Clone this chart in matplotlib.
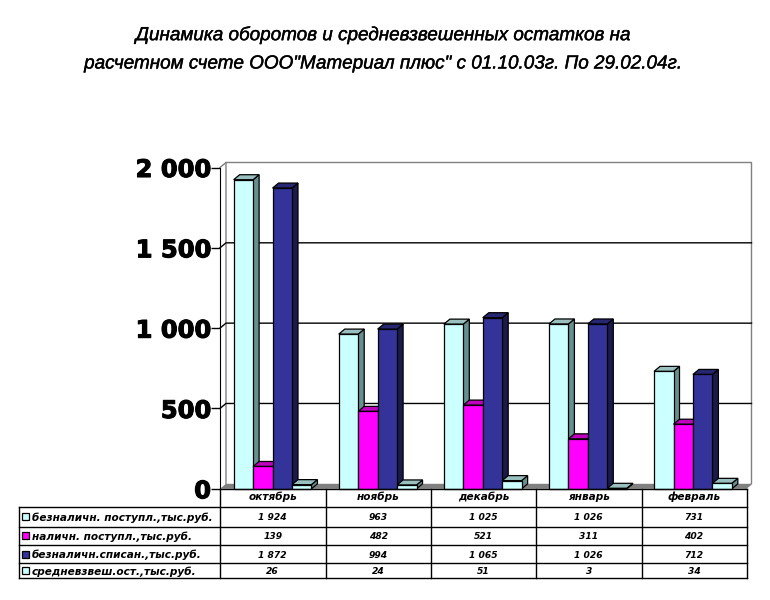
import matplotlib
matplotlib.use("Agg")
import matplotlib.pyplot as plt
import matplotlib.patheffects as pe
from matplotlib.patches import Polygon, Rectangle
from matplotlib.ticker import FuncFormatter

TITLE_LINES = ['Динамика оборотов и средневзвешенных остатков на',
               'расчетном счете ООО"Материал плюс" с 01.10.03г. По 29.02.04г.']
months = ['октябрь', 'ноябрь', 'декабрь', 'январь', 'февраль']
labels = ['безналичн. поступл.,тыс.руб.', 'наличн. поступл.,тыс.руб.',
          'безналичн.списан.,тыс.руб.', 'средневзвеш.ост.,тыс.руб.']
s1 = [1924, 963, 1025, 1026, 731]
s2 = [139, 482, 521, 311, 402]
s3 = [1872, 994, 1065, 1026, 712]
s4 = [26, 24, 51, 3, 34]
series = [s1, s2, s3, s4]
colors = ['#CCFFFF', '#FF00FF', '#333399', '#CCFFFF']
tops = ['#99BFBF', '#BF00BF', '#262673', '#99BFBF']
sides = ['#669090', '#800080', '#1A1A4D', '#669090']
yticks = [0, 500, 1000, 1500, 2000]

W, H = 770, 600
fig = plt.figure(figsize=(W / 100, H / 100), dpi=100, facecolor='white')
L, R, B, T = 220.0, 745.5, 488.8, 167.5
ax = fig.add_axes([L / W, 1 - B / H, (R - L) / W, (B - T) / H])
ax.set_xlim(0, 5)
ax.set_ylim(0, 2000)
ax.patch.set_alpha(0)
DX = 6 * 5 / (R - L)
DY = 5 * 2000 / (B - T)

# walls, floor and gridlines
ax.add_patch(Polygon([(0, 0), (DX, DY), (5 + DX, DY), (5, 0)], fc='#808080', ec='none', clip_on=False, zorder=1))
ax.plot([DX, DX, 5 + DX, 5 + DX, 5], [DY, 2000 + DY, 2000 + DY, DY, 0], color='#808080', lw=1, clip_on=False, zorder=1)
ax.plot([0, DX], [2000, 2000 + DY], color='#808080', lw=1, clip_on=False, zorder=1)
for v in yticks[1:-1]:
    ax.plot([0, DX, 5 + DX], [v, v + DY, v + DY], color='black', lw=1, clip_on=False, zorder=1)

# 3D bars
w = 0.185
for c in range(len(months)):
    for k, vals in enumerate(series):
        x0 = c + 0.13 + k * w
        x1 = x0 + w
        v = vals[c]
        z = 2 + c + k * 0.1
        ax.add_patch(Polygon([(x1, 0), (x1 + DX, DY), (x1 + DX, v + DY), (x1, v)], fc=sides[k], ec='black', lw=0.9, clip_on=False, zorder=z))
        ax.add_patch(Polygon([(x0, v), (x0 + DX, v + DY), (x1 + DX, v + DY), (x1, v)], fc=tops[k], ec='black', lw=0.9, clip_on=False, zorder=z))
        ax.add_patch(Rectangle((x0, 0), w, v, fc=colors[k], ec='black', lw=0.9, clip_on=False, zorder=z + 0.01))

for s in ['top', 'right', 'bottom']:
    ax.spines[s].set_visible(False)
ax.spines['left'].set_zorder(20)
ax.set_xticks([])
ax.set_yticks(yticks)
ax.yaxis.set_major_formatter(FuncFormatter(lambda v, p: f'{int(v):,}'.replace(',', ' ')))
ax.tick_params(axis='y', length=6.5, width=1, pad=0)
for t in ax.get_yticklabels():
    t.set_fontfamily('DejaVu Sans')
    t.set_fontweight('bold')
    t.set_fontsize(17.4)
    t.set_path_effects([pe.withStroke(linewidth=0.8, foreground='black')])

# overlay in pixel coordinates for title and table
ov = fig.add_axes([0, 0, 1, 1])
ov.set_xlim(0, W)
ov.set_ylim(H, 0)
ov.axis('off')
ov.patch.set_alpha(0)
for y, line in zip([35, 64], TITLE_LINES):
    ov.text(383, y, line, ha='center', va='center', fontsize=13.6, style='italic', family='Liberation Sans',
            path_effects=[pe.withStroke(linewidth=0.3, foreground='black')])

col_x = [220, 325.5, 431, 536, 641.5, 746.5]
row_y = [489, 507, 526.5, 545, 563, 578]
LX = 19
for y in row_y[1:]:
    ov.plot([LX, col_x[-1]], [y, y], color='black', lw=1)
ov.plot([col_x[0], col_x[-1]], [row_y[0], row_y[0]], color='black', lw=1)
ov.plot([LX, LX], [row_y[1], row_y[-1]], color='black', lw=1)
for x in col_x:
    ov.plot([x, x], [row_y[0], row_y[-1]], color='black', lw=1)

tf = dict(family='DejaVu Sans', weight='bold', style='italic', va='center')
for i, m in enumerate(months):
    ov.text((col_x[i] + col_x[i + 1]) / 2, (row_y[0] + row_y[1]) / 2 - 1, m, ha='center', fontsize=7.6, **tf)
for r, (lab, vals) in enumerate(zip(labels, series)):
    yc = (row_y[r + 1] + row_y[r + 2]) / 2
    ov.add_patch(Rectangle((21.5, yc - 3.5), 7, 7, fc=colors[r], ec='black', lw=0.9))
    ov.text(32, yc + 1, lab, ha='left', fontsize=7.6, **tf)
    for i, v in enumerate(vals):
        ov.text((col_x[i] + col_x[i + 1]) / 2, yc + 1, f'{v:,}'.replace(',', ' '), ha='center', fontsize=6.6, **tf)

fig.savefig('out.png', dpi=100)
